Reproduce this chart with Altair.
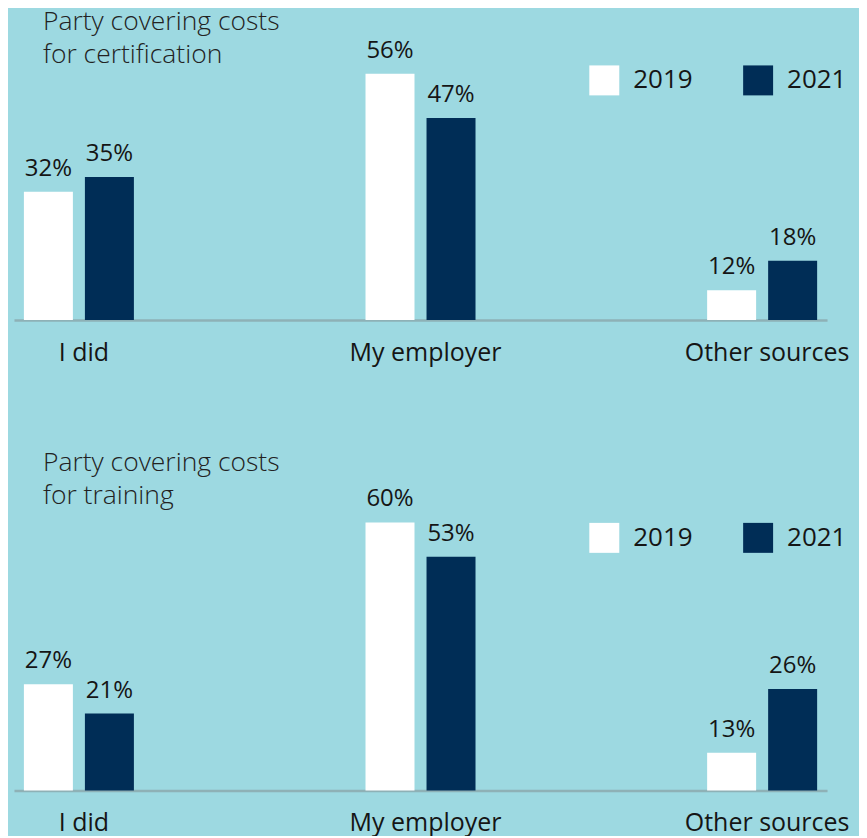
import altair as alt
import pandas as pd

categories = ["I did", "My employer", "Other sources"]
years = ["2019", "2021"]
cert_2019 = [32, 56, 12]
cert_2021 = [35, 47, 18]
train_2019 = [27, 60, 13]
train_2021 = [21, 53, 26]
cert_title = ["Party covering costs", "for certification"]
train_title = ["Party covering costs", "for training"]

BG = "#9dd9e1"
COLORS = ["#ffffff", "#002d56"]
FONT = "Open Sans"
INK = "#151515"


def frame(v19, v21):
    rows = []
    for c, a, b in zip(categories, v19, v21):
        rows.append({"category": c, "year": years[0], "value": a, "label": f"{a}%"})
        rows.append({"category": c, "year": years[1], "value": b, "label": f"{b}%"})
    return pd.DataFrame(rows)


def panel(df, title_lines, ymin, ymax, height, title_y, legend_y):
    base = alt.Chart(df).encode(
        x=alt.X(
            "category:N",
            sort=categories,
            scale=alt.Scale(paddingInner=0.678, paddingOuter=0.029),
            axis=alt.Axis(
                title=None, labelAngle=0, labelFont=FONT, labelFontSize=25,
                labelColor=INK, labelBaseline="alphabetic", labelPadding=40,
                labelOffset=5,
                domainColor="#8eb1b6", domainWidth=2.5, ticks=False, tickSize=0,
                grid=False,
            ),
        ),
        xOffset=alt.XOffset("year:N", sort=years,
                            scale=alt.Scale(paddingInner=0.197, paddingOuter=0)),
        y=alt.Y("value:Q", scale=alt.Scale(domain=[ymin, ymax], zero=False, nice=False),
                axis=None),
    )
    bars = base.mark_bar(clip=True).encode(
        color=alt.Color(
            "year:N", sort=years,
            scale=alt.Scale(domain=years, range=COLORS),
            legend=alt.Legend(
                title=None, orient="none", legendX=576, legendY=legend_y,
                direction="horizontal", symbolType="square", symbolSize=900,
                symbolStrokeWidth=0, symbolOpacity=1, labelFontSize=26,
                labelFont=FONT, labelColor=INK, labelOffset=14,
                columnPadding=50, padding=0,
            ),
        )
    )
    labels = base.mark_text(
        dy=-16, baseline="alphabetic", fontSize=24, font=FONT, color=INK
    ).encode(text="label:N")
    title = alt.Chart(pd.DataFrame({"t": [0]})).mark_text(
        text=title_lines, align="left", baseline="alphabetic", fontSize=26.5,
        font=FONT, fontWeight=300, lineHeight=33, color="#222222",
    ).encode(x=alt.value(29), y=alt.value(title_y))
    return alt.layer(bars, labels, title).properties(width=814, height=height)


p1 = panel(frame(cert_2019, cert_2021), cert_title, 5.9, 69.3, 312, 22, 57)
p2 = panel(frame(train_2019, train_2021), train_title, 5.3, 76.0, 347, 27, 79)

chart = (
    alt.vconcat(p1, p2, spacing=79)
    .resolve_legend(color="independent")
    .properties(background=BG, padding={"left": 6, "top": 0, "right": 10, "bottom": 0})
    .configure_view(stroke=None)
)

chart.save("out.html", embed_options={"renderer": "svg", "actions": False})
